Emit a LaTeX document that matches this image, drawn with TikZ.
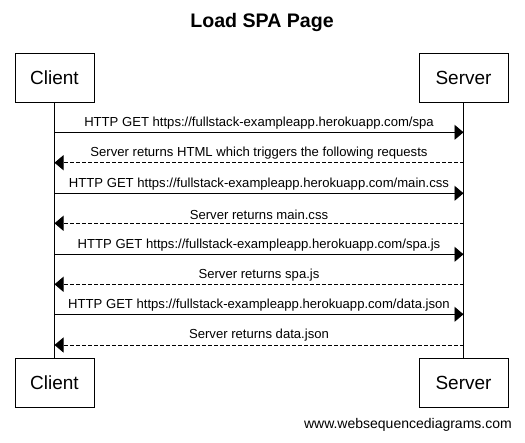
\documentclass[tikz,border=0pt]{standalone}
\usepackage{fontspec}
\setmainfont{Liberation Sans}
\usetikzlibrary{arrows.meta}
\begin{document}
\begin{tikzpicture}[x=1pt,y=-1pt,
  actor/.style={draw, line width=0.9pt, minimum width=79pt, minimum height=49pt, inner sep=0pt, font=\fontsize{19}{22}\selectfont},
  lifeline/.style={line width=0.9pt},
  req/.style={line width=0.9pt, -{Triangle[length=9pt,width=15pt]}},
  resp/.style={line width=0.9pt, dash pattern=on 4pt off 2pt, -{Triangle[length=9pt,width=15pt]}},
  msg/.style={font=\fontsize{13.1}{15}\selectfont, anchor=base, inner sep=0pt}
]
\useasboundingbox (0,0) rectangle (525,442);
\node[font=\bfseries\fontsize{19.6}{22}\selectfont] (title) at (262,22) {Load SPA Page};
\node[actor] (c1) at (54.5,77.5) {Client};
\node[actor, minimum width=89pt] (s1) at (463.5,77.5) {Server};
\node[actor] (c2) at (54.5,382.5) {Client};
\node[actor, minimum width=89pt] (s2) at (463.5,382.5) {Server};
\draw[lifeline] (c1) -- (c2);
\draw[lifeline] (s1) -- (s2);
% message y positions
\foreach \n/\y in {1/132.3,2/162.7,3/193.3,4/223.3,5/254.3,6/284.3,7/314.3,8/345}{
  \coordinate (cl\n) at (54.5,\y);
  \coordinate (sl\n) at (463.5,\y);
}
\draw[req] (cl1) -- (sl1) node[msg, midway, above=3pt] (m1) {HTTP GET https://fullstack-exampleapp.herokuapp.com/spa};
\draw[resp] (sl2) -- (cl2) node[msg, midway, above=3pt] (m2) {Server returns HTML which triggers the following requests};
\draw[req] (cl3) -- (sl3) node[msg, midway, above=3pt] (m3) {HTTP GET https://fullstack-exampleapp.herokuapp.com/main.css};
\draw[resp] (sl4) -- (cl4) node[msg, midway, above=3pt] (m4) {Server returns main.css};
\draw[req] (cl5) -- (sl5) node[msg, midway, above=3pt] (m5) {HTTP GET https://fullstack-exampleapp.herokuapp.com/spa.js};
\draw[resp] (sl6) -- (cl6) node[msg, midway, above=3pt] (m6) {Server returns spa.js};
\draw[req] (cl7) -- (sl7) node[msg, midway, above=3pt] (m7) {HTTP GET https://fullstack-exampleapp.herokuapp.com/data.json};
\draw[resp] (sl8) -- (cl8) node[msg, midway, above=3pt] (m8) {Server returns data.json};
\node[font=\fontsize{14}{16}\selectfont, anchor=base east, inner sep=0pt] (foot) at (512,428) {www.websequencediagrams.com};
\end{tikzpicture}
\end{document}
